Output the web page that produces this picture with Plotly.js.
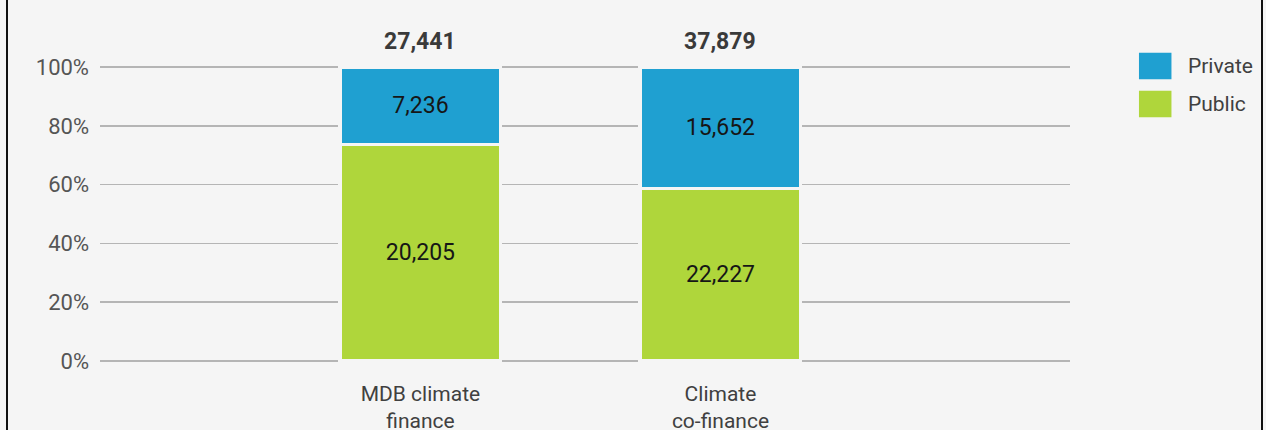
<!DOCTYPE html>
<html>
<head>
<meta charset="utf-8">
<script src="https://cdn.plot.ly/plotly-3.0.1.min.js"></script>
<style>
  html, body { margin: 0; padding: 0; background: #f5f5f5; }
  #wrap { position: relative; width: 1266px; height: 430px; overflow: hidden; }
  #chart { position: absolute; left: 0; top: 0; width: 1266px; height: 430px; }
  .edge { position: absolute; top: 0; width: 2px; height: 430px; background: #111; }
</style>
</head>
<body>
<div id="wrap">
  <div id="chart"></div>
  <div class="edge" style="left:6px"></div>
  <div class="edge" style="left:1261px"></div>
</div>
<script>
const categories = ["MDB climate<br>finance", "Climate<br>co-finance"];
const privateValues = [7236, 15652];
const publicValues = [20205, 22227];
const seriesNames = ["Private", "Public"];
const seriesColors = ["#1fa0d1", "#afd63b"];
const yTickVals = [0, 20, 40, 60, 80, 100];
const yTickText = ["0%", "20%", "40%", "60%", "80%", "100%"];

const fmt = v => v.toLocaleString("en-US");
const totals = categories.map((c, i) => privateValues[i] + publicValues[i]);

const FONT = "Roboto, 'Liberation Sans', sans-serif";
const BG = "#f5f5f5";

function barTrace(vals, name, color) {
  return {
    type: "bar", x: categories, y: vals, name: name,
    marker: { color: color, line: { color: BG, width: 3.5 } },
    text: vals.map(fmt), textposition: "inside", insidetextanchor: "middle",
    textfont: { family: FONT, size: 23, color: "#161616" },
    hoverinfo: "skip", showlegend: false, width: 0.535
  };
}
const tracePublic = barTrace(publicValues, seriesNames[1], seriesColors[1]);
const tracePrivate = barTrace(privateValues, seriesNames[0], seriesColors[0]);

const annotations = categories.map((c, i) => ({
  x: c, y: 100, xref: "x", yref: "y", yanchor: "bottom", yshift: 10,
  text: "<b>" + fmt(totals[i]) + "</b>", showarrow: false,
  font: { family: FONT, size: 23, color: "#3a3a3a" }
}));

// custom legend (paper coords; plot area spans px y 65..363)
const H = 298, T = 65;
const py = p => (T + H - p) / H;
const legBoxes = [[79.3, 52.7, 66], [117.3, 90.7, 104]];
const shapes = [];
seriesNames.forEach((n, k) => {
  shapes.push({ type: "rect", xref: "paper", yref: "paper", x0: 1.0711, x1: 1.1046,
    y0: py(legBoxes[k][0]), y1: py(legBoxes[k][1]), fillcolor: seriesColors[k], line: { width: 0 } });
  annotations.push({ xref: "paper", yref: "paper", x: 1.1196, y: py(legBoxes[k][2]), xanchor: "left",
    yanchor: "middle", text: n, showarrow: false, font: { family: FONT, size: 21, color: "#404040" } });
});

const layout = {
  width: 1266, height: 430,
  margin: { l: 100, r: 196, t: T, b: 430 - T - H },
  paper_bgcolor: BG, plot_bgcolor: BG,
  barmode: "stack", barnorm: "percent",
  showlegend: false,
  xaxis: {
    type: "category", range: [-1.068, 2.165], showgrid: false, zeroline: false, showline: false,
    ticks: "", ticklabelstandoff: 16, fixedrange: true,
    tickfont: { family: FONT, size: 21, color: "#404040" }
  },
  yaxis: {
    range: [-0.68, 100.68], tickvals: yTickVals, ticktext: yTickText,
    showgrid: true, gridcolor: "#b5b5b5", gridwidth: 1.5, zeroline: false, showline: false,
    ticks: "", ticklabelstandoff: 10, fixedrange: true,
    tickfont: { family: FONT, size: 22, color: "#555" }
  },
  annotations: annotations,
  shapes: shapes,
  font: { family: FONT }
};

Plotly.newPlot("chart", [tracePublic, tracePrivate], layout, { displayModeBar: false, staticPlot: true });
</script>
</body>
</html>
